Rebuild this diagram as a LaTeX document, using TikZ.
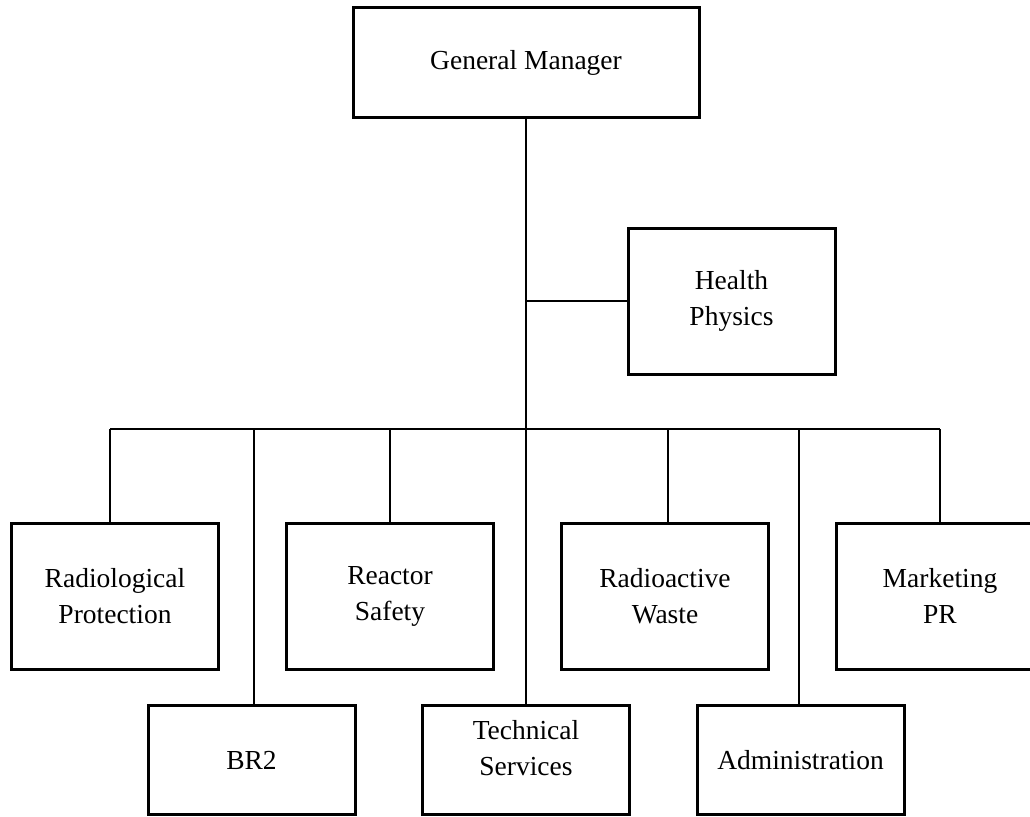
\documentclass[tikz,border=0pt]{standalone}
\usepackage{fontspec}
\setmainfont{Liberation Serif}
\usetikzlibrary{positioning}

\begin{document}
\begin{tikzpicture}[x=1pt,y=-1pt,node distance=68pt,
	font=\fontsize{27.5}{36}\selectfont,
	unit/.style={draw,line width=3pt,outer sep=0pt,minimum width=207pt,minimum height=146pt,align=center},
	lowunit/.style={unit,minimum height=109pt},
	link/.style={line width=1.8pt}]
	\useasboundingbox (0,0) rectangle (1030,816);
	
	\node[unit,minimum width=346pt,minimum height=109pt] (gm) at (526,62.5) {General Manager};
	\node[unit] (hp) at (731.5,301) {Health\\Physics};
	
	\node[unit] (rp) at (115,596) {Radiological\\Protection};
	\node[unit] (rs) [right=of rp] {Reactor\\Safety};
	\node[unit] (rw) [right=of rs] {Radioactive\\Waste};
	\node[unit] (mp) [right=of rw] {Marketing\\PR};
	
	\node[lowunit] (br) at (251.5,760) {BR2};
	\node[lowunit,label={[align=center,yshift=12pt]center:Technical\\Services}] (ts) [right=67.5pt of br] {};
	\node[lowunit] (ad) [right=67.5pt of ts] {Administration};
	
	\coordinate (bus) at (526,429);
	
	\draw[link] (gm) -- (ts);
	\draw[link] (hp.west) -- (hp.west -| gm.south);
	\draw[link] ([xshift=-5pt]rp.north |- bus) -- (mp.north |- bus);
	\foreach \n/\d in {rp/-5,rs/0,rw/3,mp/0,br/2.5,ad/-1.5}
	\draw[link] ([xshift=\d pt]\n.north) -- ([xshift=\d pt]\n.north |- bus);
	
\end{tikzpicture}
\end{document}
